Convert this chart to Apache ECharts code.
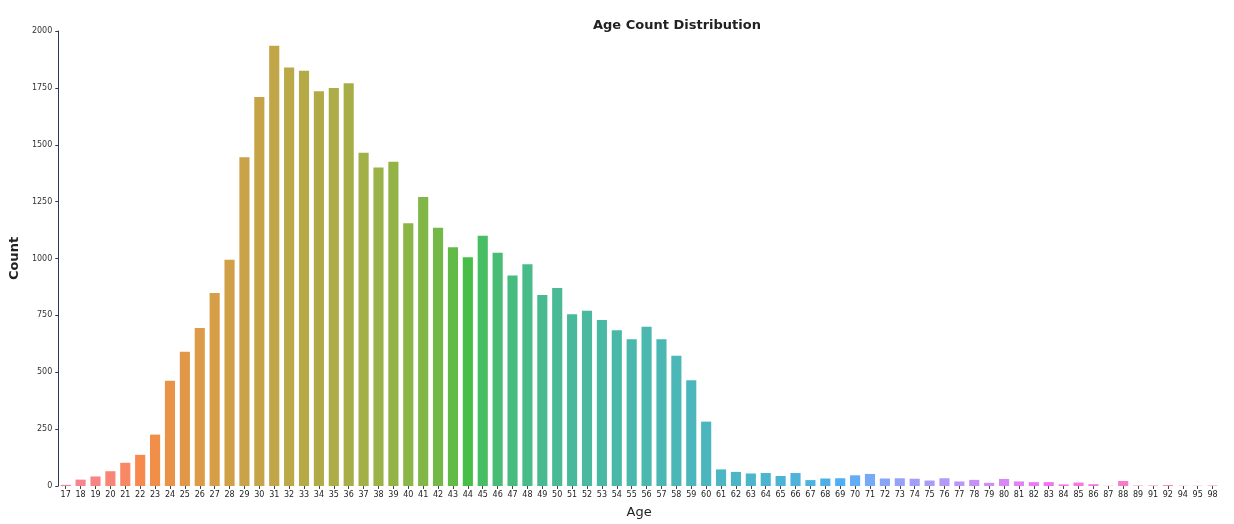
<!DOCTYPE html>
<html>
<head>
<meta charset="utf-8">
<script src="https://cdn.jsdelivr.net/npm/echarts@6/dist/echarts.min.js"></script>
<style>html,body{margin:0;padding:0;background:#fff}#c{width:1234px;height:524px}</style>
</head>
<body>
<div id="c"></div>
<script>
var ages = ['17','18','19','20','21','22','23','24','25','26','27','28','29','30','31','32','33','34','35','36','37','38','39','40','41','42','43','44','45','46','47','48','49','50','51','52','53','54','55','56','57','58','59','60','61','62','63','64','65','66','67','68','69','70','71','72','73','74','75','76','77','78','79','80','81','82','83','84','85','86','87','88','89','91','92','94','95','98'];
var counts = [5,28,42,65,102,137,226,463,590,695,848,995,1445,1710,1935,1840,1825,1735,1750,1770,1465,1400,1425,1155,1270,1135,1050,1005,1100,1025,925,975,840,870,755,770,730,685,645,700,645,572,465,283,73,62,55,57,44,57,26,33,34,47,53,33,34,32,24,34,20,27,14,31,20,17,17,7,15,8,1,22,2,2,4,1,1,2];
var yTicks = [0,250,500,750,1000,1250,1500,1750,2000];

// seaborn-like husl palette
function huslToRgb(H,S,L){
  var m=[[3.2406,-1.5372,-0.4986],[-0.9689,1.8758,0.0415],[0.0557,-0.2040,1.0570]];
  var refU=0.19784,refV=0.46834,kappa=903.2963,eps=0.0088564;
  function maxChroma(L,H){
    var hr=H/360*Math.PI*2,sinH=Math.sin(hr),cosH=Math.cos(hr);
    var sub1=Math.pow(L+16,3)/1560896, sub2=sub1>eps?sub1:L/kappa, res=Infinity;
    m.forEach(function(r){
      var top=(0.99915*r[0]+1.05122*r[1]+1.14460*r[2])*sub2;
      var rb=0.86330*r[2]-0.17266*r[1], lb=0.12949*r[2]-0.38848*r[0];
      var bottom=(rb*sinH+lb*cosH)*sub2;
      [0,1].forEach(function(t){var C=L*(top-1.05122*t)/(bottom+0.17266*sinH*t); if(C>0&&C<res)res=C;});
    });
    return res;
  }
  var C=maxChroma(L,H)/100*S, hr=H/360*Math.PI*2;
  var U=Math.cos(hr)*C,V=Math.sin(hr)*C;
  var t=(L+16)/116, vY=Math.pow(t,3)>eps?Math.pow(t,3):(116*t-16)/kappa;
  var vU=U/(13*L)+refU, vV=V/(13*L)+refV;
  var Y=vY, X=0-(9*Y*vU)/((vU-4)*vV-vU*vV), Z=(9*Y-15*vV*Y-vV*X)/(3*vV);
  return m.map(function(r){
    var c=r[0]*X+r[1]*Y+r[2]*Z;
    c = c<=0.0031308?12.92*c:1.055*Math.pow(c,1/2.4)-0.055;
    return Math.min(1,Math.max(0,c));
  });
}
var n=ages.length, colors=[];
for(var i=0;i<n;i++){
  var h=((i/n)+0.01)%1*359;
  var c=huslToRgb(h,0.9*99,0.66*99);
  var d=c.map(function(x){return x*0.9+0.1;});
  colors.push('rgb('+d.map(function(x){return Math.round(x*255);}).join(',')+')');
}
var data = counts.map(function(v,i){return {value:v,itemStyle:{color:colors[i]}};});

var chart = echarts.init(document.getElementById('c'));
chart.setOption({
  animation:false,
  backgroundColor:'#fff',
  title:{text:'Age Count Distribution',left:588,top:14,
    textStyle:{fontFamily:'DejaVu Sans',fontSize:13,fontWeight:'bold',color:'#222'}},
  grid:{left:52,right:14,top:31,bottom:38},
  xAxis:{type:'category',data:ages,name:'Age',nameLocation:'middle',nameGap:20,
    nameTextStyle:{fontFamily:'DejaVu Sans',fontSize:13,color:'#222'},
    axisLine:{show:false},axisTick:{show:true,alignWithLabel:true,length:3,lineStyle:{color:'#444'}},
    axisLabel:{interval:0,fontFamily:'DejaVu Sans',fontSize:8,color:'#222',margin:5}},
  yAxis:{type:'value',min:0,max:2000,interval:250,name:'Count',nameLocation:'middle',nameGap:34,
    nameTextStyle:{fontFamily:'DejaVu Sans',fontSize:13,fontWeight:'bold',color:'#222'},
    axisLine:{show:true,lineStyle:{color:'#2b3a55',width:1}},
    axisTick:{show:true,length:3,lineStyle:{color:'#2b3a55'}},
    splitLine:{show:false},
    axisLabel:{fontFamily:'DejaVu Sans',fontSize:8,color:'#333',margin:6,
      formatter:function(v){return yTicks.indexOf(v)>=0?String(v):'';}}},
  series:[{type:'bar',data:data,barCategoryGap:'32%'}]
});
</script>
</body>
</html>
